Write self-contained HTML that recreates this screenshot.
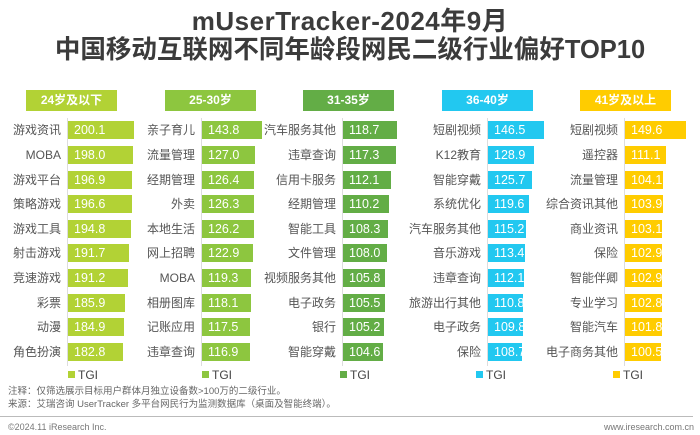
<!DOCTYPE html>
<html><head><meta charset="utf-8"><style>
*{margin:0;padding:0;box-sizing:border-box}
body{width:700px;height:435px;background:#fff;position:relative;overflow:hidden;font-family:"Liberation Sans","Noto Sans CJK SC",sans-serif}
.t{position:absolute;left:0;width:700px;text-align:center;font-weight:bold;color:#3b3b3b;font-size:25.5px;line-height:28px}
.h{position:absolute;top:90px;width:91px;height:21px;color:#fff;font-weight:bold;font-size:12px;line-height:21px;text-align:center}
.ax{position:absolute;top:118px;width:1px;height:248px;background:#ddd}
.l{position:absolute;width:110px;text-align:right;font-size:12px;color:#555;height:18px;line-height:18px;white-space:nowrap}
.b{position:absolute;height:18px;color:#fff;font-size:12.5px;line-height:18px;padding-left:6px;white-space:nowrap}
.lg{position:absolute;top:368px;font-size:12px;color:#444;line-height:14px}
.lg i{display:inline-block;width:7px;height:7px;margin-right:3px;vertical-align:1px}
.n{position:absolute;left:8px;font-size:9.5px;color:#666;line-height:12px}
</style></head><body>
<div class="t" style="top:7px;font-size:26px;letter-spacing:0.5px">mUserTracker-2024年9月</div>
<div class="t" style="top:36px">中国移动互联网不同年龄段网民二级行业偏好TOP10</div>

<div class="h" style="left:26px;background:#b2d235">24岁及以下</div>
<div class="h" style="left:165px;background:#8dc63f">25-30岁</div>
<div class="h" style="left:303px;background:#63ad46">31-35岁</div>
<div class="h" style="left:442px;background:#22c8f0">36-40岁</div>
<div class="h" style="left:580px;background:#ffcc00">41岁及以上</div>

<div class="ax" style="left:67px"></div>
<div class="ax" style="left:201px"></div>
<div class="ax" style="left:342px"></div>
<div class="ax" style="left:487px"></div>
<div class="ax" style="left:624px"></div>

<div class="l" style="left:-49px;top:121px">游戏资讯</div><div class="b" style="left:68px;top:121px;width:66px;background:#b2d235">200.1</div>
<div class="l" style="left:-49px;top:146px">MOBA</div><div class="b" style="left:68px;top:146px;width:64.7px;background:#b2d235">198.0</div>
<div class="l" style="left:-49px;top:171px">游戏平台</div><div class="b" style="left:68px;top:171px;width:64px;background:#b2d235">196.9</div>
<div class="l" style="left:-49px;top:195px">策略游戏</div><div class="b" style="left:68px;top:195px;width:63.8px;background:#b2d235">196.6</div>
<div class="l" style="left:-49px;top:220px">游戏工具</div><div class="b" style="left:68px;top:220px;width:62.6px;background:#b2d235">194.8</div>
<div class="l" style="left:-49px;top:244px">射击游戏</div><div class="b" style="left:68px;top:244px;width:60.7px;background:#b2d235">191.7</div>
<div class="l" style="left:-49px;top:269px">竞速游戏</div><div class="b" style="left:68px;top:269px;width:60.3px;background:#b2d235">191.2</div>
<div class="l" style="left:-49px;top:294px">彩票</div><div class="b" style="left:68px;top:294px;width:57px;background:#b2d235">185.9</div>
<div class="l" style="left:-49px;top:318px">动漫</div><div class="b" style="left:68px;top:318px;width:56.3px;background:#b2d235">184.9</div>
<div class="l" style="left:-49px;top:343px">角色扮演</div><div class="b" style="left:68px;top:343px;width:55px;background:#b2d235">182.8</div>

<div class="l" style="left:85px;top:121px">亲子育儿</div><div class="b" style="left:202px;top:121px;width:60px;background:#8dc63f">143.8</div>
<div class="l" style="left:85px;top:146px">流量管理</div><div class="b" style="left:202px;top:146px;width:52.5px;background:#8dc63f">127.0</div>
<div class="l" style="left:85px;top:171px">经期管理</div><div class="b" style="left:202px;top:171px;width:52.3px;background:#8dc63f">126.4</div>
<div class="l" style="left:85px;top:195px">外卖</div><div class="b" style="left:202px;top:195px;width:52.2px;background:#8dc63f">126.3</div>
<div class="l" style="left:85px;top:220px">本地生活</div><div class="b" style="left:202px;top:220px;width:52.2px;background:#8dc63f">126.2</div>
<div class="l" style="left:85px;top:244px">网上招聘</div><div class="b" style="left:202px;top:244px;width:50.7px;background:#8dc63f">122.9</div>
<div class="l" style="left:85px;top:269px">MOBA</div><div class="b" style="left:202px;top:269px;width:49px;background:#8dc63f">119.3</div>
<div class="l" style="left:85px;top:294px">相册图库</div><div class="b" style="left:202px;top:294px;width:48.5px;background:#8dc63f">118.1</div>
<div class="l" style="left:85px;top:318px">记账应用</div><div class="b" style="left:202px;top:318px;width:48.3px;background:#8dc63f">117.5</div>
<div class="l" style="left:85px;top:343px">违章查询</div><div class="b" style="left:202px;top:343px;width:48px;background:#8dc63f">116.9</div>

<div class="l" style="left:226px;top:121px">汽车服务其他</div><div class="b" style="left:343px;top:121px;width:54px;background:#63ad46">118.7</div>
<div class="l" style="left:226px;top:146px">违章查询</div><div class="b" style="left:343px;top:146px;width:53px;background:#63ad46">117.3</div>
<div class="l" style="left:226px;top:171px">信用卡服务</div><div class="b" style="left:343px;top:171px;width:48px;background:#63ad46">112.1</div>
<div class="l" style="left:226px;top:195px">经期管理</div><div class="b" style="left:343px;top:195px;width:46px;background:#63ad46">110.2</div>
<div class="l" style="left:226px;top:220px">智能工具</div><div class="b" style="left:343px;top:220px;width:44.5px;background:#63ad46">108.3</div>
<div class="l" style="left:226px;top:244px">文件管理</div><div class="b" style="left:343px;top:244px;width:44px;background:#63ad46">108.0</div>
<div class="l" style="left:226px;top:269px">视频服务其他</div><div class="b" style="left:343px;top:269px;width:42px;background:#63ad46">105.8</div>
<div class="l" style="left:226px;top:294px">电子政务</div><div class="b" style="left:343px;top:294px;width:41.5px;background:#63ad46">105.5</div>
<div class="l" style="left:226px;top:318px">银行</div><div class="b" style="left:343px;top:318px;width:41px;background:#63ad46">105.2</div>
<div class="l" style="left:226px;top:343px">智能穿戴</div><div class="b" style="left:343px;top:343px;width:40px;background:#63ad46">104.6</div>

<div class="l" style="left:371px;top:121px">短剧视频</div><div class="b" style="left:488px;top:121px;width:56px;background:#22c8f0">146.5</div>
<div class="l" style="left:371px;top:146px">K12教育</div><div class="b" style="left:488px;top:146px;width:46px;background:#22c8f0">128.9</div>
<div class="l" style="left:371px;top:171px">智能穿戴</div><div class="b" style="left:488px;top:171px;width:44px;background:#22c8f0">125.7</div>
<div class="l" style="left:371px;top:195px">系统优化</div><div class="b" style="left:488px;top:195px;width:40.5px;background:#22c8f0">119.6</div>
<div class="l" style="left:371px;top:220px">汽车服务其他</div><div class="b" style="left:488px;top:220px;width:38px;background:#22c8f0">115.2</div>
<div class="l" style="left:371px;top:244px">音乐游戏</div><div class="b" style="left:488px;top:244px;width:37px;background:#22c8f0">113.4</div>
<div class="l" style="left:371px;top:269px">违章查询</div><div class="b" style="left:488px;top:269px;width:36px;background:#22c8f0">112.1</div>
<div class="l" style="left:371px;top:294px">旅游出行其他</div><div class="b" style="left:488px;top:294px;width:35.3px;background:#22c8f0">110.8</div>
<div class="l" style="left:371px;top:318px">电子政务</div><div class="b" style="left:488px;top:318px;width:34.7px;background:#22c8f0">109.8</div>
<div class="l" style="left:371px;top:343px">保险</div><div class="b" style="left:488px;top:343px;width:34px;background:#22c8f0">108.7</div>

<div class="l" style="left:508px;top:121px">短剧视频</div><div class="b" style="left:625px;top:121px;width:61px;background:#ffcc00">149.6</div>
<div class="l" style="left:508px;top:146px">遥控器</div><div class="b" style="left:625px;top:146px;width:41px;background:#ffcc00">111.1</div>
<div class="l" style="left:508px;top:171px">流量管理</div><div class="b" style="left:625px;top:171px;width:38px;background:#ffcc00">104.1</div>
<div class="l" style="left:508px;top:195px">综合资讯其他</div><div class="b" style="left:625px;top:195px;width:37.8px;background:#ffcc00">103.9</div>
<div class="l" style="left:508px;top:220px">商业资讯</div><div class="b" style="left:625px;top:220px;width:37.4px;background:#ffcc00">103.1</div>
<div class="l" style="left:508px;top:244px">保险</div><div class="b" style="left:625px;top:244px;width:37.3px;background:#ffcc00">102.9</div>
<div class="l" style="left:508px;top:269px">智能伴卿</div><div class="b" style="left:625px;top:269px;width:37.3px;background:#ffcc00">102.9</div>
<div class="l" style="left:508px;top:294px">专业学习</div><div class="b" style="left:625px;top:294px;width:37.2px;background:#ffcc00">102.8</div>
<div class="l" style="left:508px;top:318px">智能汽车</div><div class="b" style="left:625px;top:318px;width:36.7px;background:#ffcc00">101.8</div>
<div class="l" style="left:508px;top:343px">电子商务其他</div><div class="b" style="left:625px;top:343px;width:36px;background:#ffcc00">100.5</div>

<div class="lg" style="left:68px"><i style="background:#b2d235"></i>TGI</div>
<div class="lg" style="left:202px"><i style="background:#8dc63f"></i>TGI</div>
<div class="lg" style="left:340px"><i style="background:#63ad46"></i>TGI</div>
<div class="lg" style="left:476px"><i style="background:#22c8f0"></i>TGI</div>
<div class="lg" style="left:613px"><i style="background:#ffcc00"></i>TGI</div>

<div class="n" style="top:386px">注释：仅筛选展示目标用户群体月独立设备数&gt;100万的二级行业。</div>
<div class="n" style="top:399px">来源：艾瑞咨询 UserTracker 多平台网民行为监测数据库（桌面及智能终端）。</div>
<div style="position:absolute;left:0;top:416px;width:693px;height:1px;background:#bbb"></div>
<div class="n" style="top:421px;font-size:9px;color:#777">©2024.11 iResearch Inc.</div>
<div class="n" style="top:421px;left:auto;right:6px;font-size:9px;color:#777">www.iresearch.com.cn</div>
</body></html>
